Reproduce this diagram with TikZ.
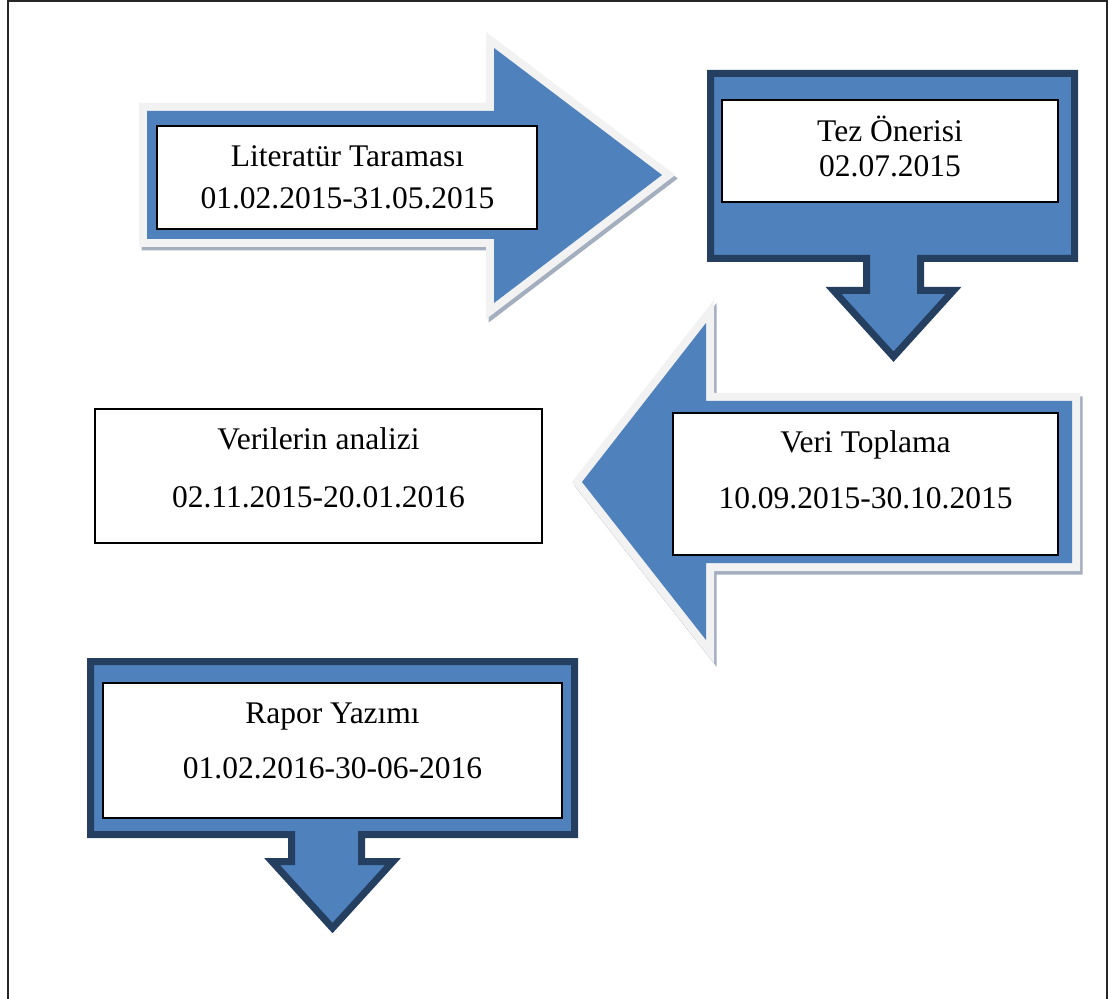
\documentclass[tikz,border=0pt]{standalone}
\usepackage{fontspec}
\setmainfont{Liberation Serif}
\usetikzlibrary{fit}
\definecolor{arrowblue}{HTML}{4F81BD}
\definecolor{darkrim}{HTML}{243F60}
\definecolor{lightrim}{HTML}{F2F2F2}
\definecolor{shadowgrey}{HTML}{A3AEBF}
\tikzset{
  wbox/.style={draw=black, line width=0.6pt, fill=white, inner sep=0pt},
  lbl/.style={font=\fontsize{15.75}{19}\selectfont, inner sep=0pt, anchor=base},
  shadowrim/.style={draw=shadowgrey, line width=8pt, line join=miter},
  lightedge/.style={draw=lightrim, line width=8pt, line join=miter},
  bluebody/.style={fill=arrowblue},
  darkbody/.style={fill=arrowblue, draw=darkrim, line width=3.5pt, line join=miter},
  frameline/.style={draw=black!85, line width=1pt}
}
\begin{document}
\begin{tikzpicture}[x=0.5pt, y=-0.5pt]
\useasboundingbox (0,0) rectangle (1112,999);
% page frame (no bottom edge)
\draw[frameline] (8,999) -- (8,1) -- (1107,1) -- (1107,999);

% ---- Arrow 1 (right) ----
\begin{scope}[shift={(2.5,3.5)}]
\path[shadowrim] (147,111) -- (494,111) -- (494,48) -- (662,175) -- (494,303) -- (494,239) -- (147,239) -- cycle;
\end{scope}
\path[lightedge] (147,111) -- (494,111) -- (494,48) -- (662,175) -- (494,303) -- (494,239) -- (147,239) -- cycle;
\path[bluebody] (147,111) -- (494,111) -- (494,48) -- (662,175) -- (494,303) -- (494,239) -- (147,239) -- cycle;
\node[wbox, fit={(157,126) (537,229)}] (box1) {};
\node[lbl] (t1a) at (347.5,167) {Literatür Taraması};
\node[lbl] (t1b) at (347.5,209) {01.02.2015-31.05.2015};

% ---- Arrow 2 (callout down) ----
\path[darkbody] (710.5,73.5) -- (1074.5,73.5) -- (1074.5,258.5) -- (920.5,258.5) -- (920.5,290.5) -- (953.5,290.5) -- (893.5,356.7) -- (833.5,290.5) -- (866.5,290.5) -- (866.5,258.5) -- (710.5,258.5) -- cycle;
\node[wbox, fit={(722,100) (1058,202)}] (box2) {};
\node[lbl] (t2a) at (890,142) {Tez Önerisi};
\node[lbl] (t2b) at (890,177) {02.07.2015};

% ---- Arrow 3 (left) ----
\begin{scope}[shift={(2.5,3.5)}]
\path[shadowrim] (1072,401) -- (706,401) -- (706,323) -- (582,482) -- (706,640) -- (706,563) -- (1072,563) -- cycle;
\end{scope}
\path[lightedge] (1072,401) -- (706,401) -- (706,323) -- (582,482) -- (706,640) -- (706,563) -- (1072,563) -- cycle;
\path[bluebody] (1072,401) -- (706,401) -- (706,323) -- (582,482) -- (706,640) -- (706,563) -- (1072,563) -- cycle;
\node[wbox, fit={(673,413) (1058,555)}] (box3) {};
\node[lbl] (t3a) at (865.5,452) {Veri Toplama};
\node[lbl] (t3b) at (865.5,508) {10.09.2015-30.10.2015};

% ---- Box 4 (plain) ----
\node[wbox, fit={(95,409) (542,543)}] (box4) {};
\node[lbl] (t4a) at (318.5,450) {Verilerin analizi};
\node[lbl] (t4b) at (318.5,507) {02.11.2015-20.01.2016};

% ---- Arrow 5 (callout down) ----
\path[darkbody] (90.5,661.5) -- (574.5,661.5) -- (574.5,834.5) -- (361.5,834.5) -- (361.5,861.5) -- (393,861.5) -- (332.5,928) -- (272,861.5) -- (291.5,861.5) -- (291.5,834.5) -- (90.5,834.5) -- cycle;
\node[wbox, fit={(103,683) (562,818)}] (box5) {};
\node[lbl] (t5a) at (332.5,723) {Rapor Yazımı};
\node[lbl] (t5b) at (332.5,778) {01.02.2016-30-06-2016};
\end{tikzpicture}
\end{document}
